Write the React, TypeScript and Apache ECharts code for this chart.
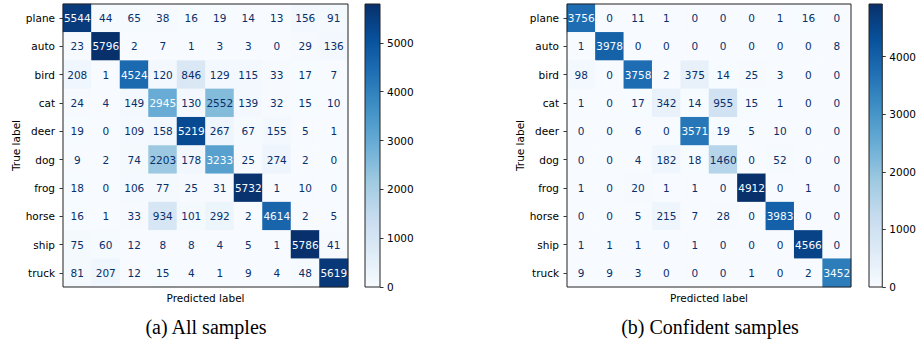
import React, { useEffect, useRef } from "react";
import * as echarts from "echarts";

// CIFAR-10 class names (true label rows / predicted label columns)
const classes = ["plane", "auto", "bird", "cat", "deer", "dog", "frog", "horse", "ship", "truck"];

// Confusion matrix over all samples (rows: true label, cols: predicted label)
const allSamples = [
  [5544, 44, 65, 38, 16, 19, 14, 13, 156, 91],
  [23, 5796, 2, 7, 1, 3, 3, 0, 29, 136],
  [208, 1, 4524, 120, 846, 129, 115, 33, 17, 7],
  [24, 4, 149, 2945, 130, 2552, 139, 32, 15, 10],
  [19, 0, 109, 158, 5219, 267, 67, 155, 5, 1],
  [9, 2, 74, 2203, 178, 3233, 25, 274, 2, 0],
  [18, 0, 106, 77, 25, 31, 5732, 1, 10, 0],
  [16, 1, 33, 934, 101, 292, 2, 4614, 2, 5],
  [75, 60, 12, 8, 8, 4, 5, 1, 5786, 41],
  [81, 207, 12, 15, 4, 1, 9, 4, 48, 5619],
];

// Confusion matrix over confident samples only
const confidentSamples = [
  [3756, 0, 11, 1, 0, 0, 0, 1, 16, 0],
  [1, 3978, 0, 0, 0, 0, 0, 0, 0, 8],
  [98, 0, 3758, 2, 375, 14, 25, 3, 0, 0],
  [1, 0, 17, 342, 14, 955, 15, 1, 0, 0],
  [0, 0, 6, 0, 3571, 19, 5, 10, 0, 0],
  [0, 0, 4, 182, 18, 1460, 0, 52, 0, 0],
  [1, 0, 20, 1, 1, 0, 4912, 0, 1, 0],
  [0, 0, 5, 215, 7, 28, 0, 3983, 0, 0],
  [1, 1, 1, 0, 1, 0, 0, 0, 4566, 0],
  [9, 9, 3, 0, 0, 0, 1, 0, 2, 3452],
];

// Colorbar tick values
const allTicks = [0, 1000, 2000, 3000, 4000, 5000];
const confidentTicks = [0, 1000, 2000, 3000, 4000];

// Panel captions
const captions = ["(a) All samples", "(b) Confident samples"];

// Matplotlib "Blues" colormap stops
const blues = ["#f7fbff", "#deebf7", "#c6dbef", "#9ecae1", "#6baed6", "#4292c6", "#2171b5", "#08519c", "#08306b"];

const FONT = "DejaVu Sans";
const FS = 10.5;

function matrixData(m: number[][]) {
  const max = Math.max(...m.flat());
  const out: any[] = [];
  m.forEach((row, y) =>
    row.forEach((v, x) => {
      out.push({
        value: [x, y, v],
        label: { color: v > max / 2 ? "#f7fbff" : "#08306b" },
      });
    })
  );
  return out;
}

export default function App() {
  const ref = useRef<HTMLDivElement>(null);

  useEffect(() => {
    if (!ref.current) return;
    const chart = echarts.init(ref.current, undefined, { renderer: "svg" });

    const maxAll = Math.max(...allSamples.flat());
    const maxConf = Math.max(...confidentSamples.flat());

    const panels = [
      { m: allSamples, max: maxAll, ticks: allTicks, left: 63, width: 285, barLeft: 365 },
      { m: confidentSamples, max: maxConf, ticks: confidentTicks, left: 567, width: 284, barLeft: 869 },
    ];

    const grids: any[] = [];
    const xAxes: any[] = [];
    const yAxes: any[] = [];
    const series: any[] = [];
    const visualMaps: any[] = [];

    panels.forEach((p) => {
      const gm = grids.length;
      grids.push({
        left: p.left, top: 4, width: p.width, height: 283,
        show: true, z: 10, backgroundColor: "transparent",
        borderColor: "#222", borderWidth: 1,
      });
      xAxes.push({
        gridIndex: gm, type: "category", data: classes,
        axisLine: { show: false }, axisTick: { show: false }, axisLabel: { show: false },
        splitLine: { show: false },
        name: "Predicted label", nameLocation: "middle", nameGap: 5,
        nameTextStyle: { fontFamily: FONT, fontSize: FS, color: "#000" },
      });
      yAxes.push({
        gridIndex: gm, type: "category", data: classes, inverse: true,
        axisLine: { show: false },
        axisTick: { show: true, alignWithLabel: true, length: 3.5, lineStyle: { color: "#000", width: 0.8 } },
        axisLabel: { margin: 8, fontFamily: FONT, fontSize: FS, color: "#000" },
        splitLine: { show: false },
        name: "True label", nameLocation: "middle", nameGap: 42, nameRotate: 90,
        nameTextStyle: { fontFamily: FONT, fontSize: FS, color: "#000" },
      });
      series.push({
        type: "heatmap", xAxisIndex: xAxes.length - 1, yAxisIndex: yAxes.length - 1,
        data: matrixData(p.m),
        label: {
          show: true, fontFamily: FONT, fontSize: FS,
          formatter: (params: any) => String(params.value[2]),
        },
        itemStyle: { borderWidth: 0 },
        emphasis: { disabled: true },
      });
      visualMaps.push({
        type: "continuous", show: false, seriesIndex: series.length - 1, dimension: 2,
        min: 0, max: p.max, inRange: { color: blues },
      });

      // colorbar
      const gc = grids.length;
      grids.push({
        left: p.barLeft, top: 4, width: 15, height: 283,
        show: true, z: 10, backgroundColor: "transparent",
        borderColor: "#222", borderWidth: 1,
      });
      xAxes.push({
        gridIndex: gc, type: "category", data: ["c"], show: false,
      });
      yAxes.push({
        gridIndex: gc, type: "value", position: "right", min: 0, max: p.max,
        axisLine: { show: false },
        splitLine: { show: false },
        axisTick: { show: true, length: 3.5, customValues: p.ticks, lineStyle: { color: "#000", width: 0.8 } },
        axisLabel: {
          margin: 7, customValues: p.ticks, fontFamily: FONT, fontSize: FS, color: "#000",
          formatter: (v: number) => String(v),
        },
      });
      series.push({
        type: "bar", xAxisIndex: xAxes.length - 1, yAxisIndex: yAxes.length - 1,
        data: [p.max], barWidth: "100%",
        itemStyle: {
          color: new echarts.graphic.LinearGradient(
            0, 0, 0, 1,
            blues.slice().reverse().map((c, k) => ({ offset: k / (blues.length - 1), color: c }))
          ),
        },
        emphasis: { disabled: true },
        silent: true,
      });
    });

    chart.setOption({
      animation: false,
      backgroundColor: "#fff",
      grid: grids,
      xAxis: xAxes,
      yAxis: yAxes,
      visualMap: visualMaps,
      series,
      graphic: [
        {
          type: "text", x: 206, y: 327,
          style: { text: captions[0], font: '20px "Liberation Serif"', fill: "#000", align: "center", verticalAlign: "middle", textAlign: "center", textVerticalAlign: "middle" },
        },
        {
          type: "text", x: 710, y: 327,
          style: { text: captions[1], font: '20px "Liberation Serif"', fill: "#000", align: "center", verticalAlign: "middle", textAlign: "center", textVerticalAlign: "middle" },
        },
      ],
    });

    return () => chart.dispose();
  }, []);

  return (
    <div
      ref={ref}
      style={{ position: "absolute", left: 0, top: 0, width: 919, height: 345, background: "#fff" }}
    />
  );
}
